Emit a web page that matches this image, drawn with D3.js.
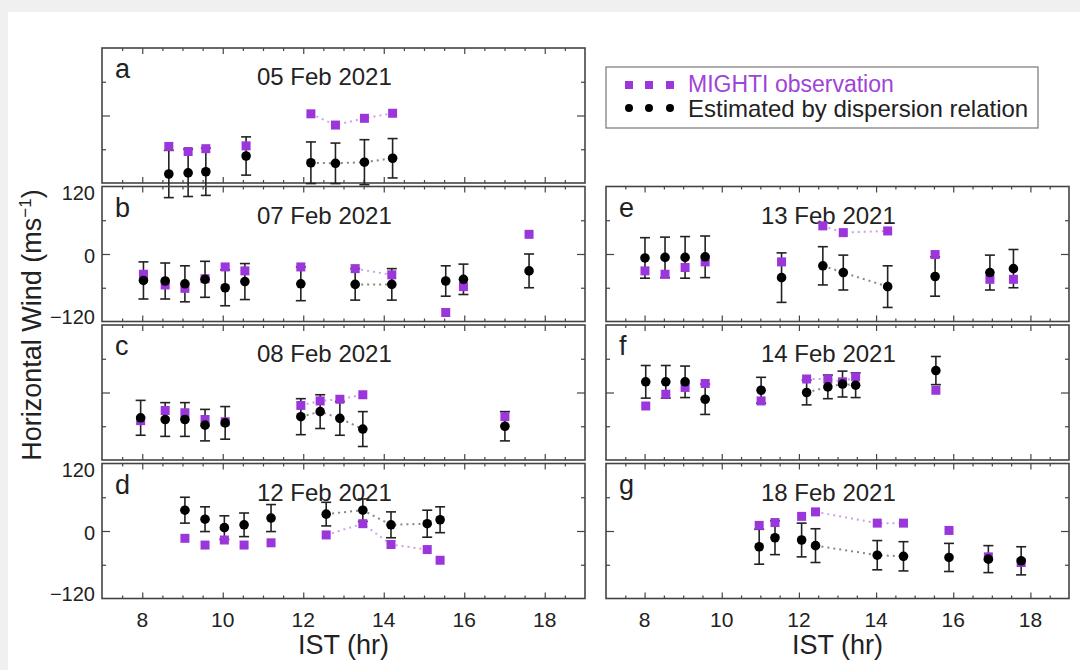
<!DOCTYPE html>
<html>
<head>
<meta charset="utf-8">
<script src="https://cdn.jsdelivr.net/npm/d3@7"></script>
<style>
  body { margin: 0; background: #f0f0f0; }
  text { font-family: "Liberation Sans", Arial, Helvetica, sans-serif; }
</style>
</head>
<body>
<div id="chart"></div>
<script>
// panel ids, dates, and where each panel sits (column, row)
var panelIds = ["a", "b", "c", "d", "e", "f", "g"];
var panelDates = ["05 Feb 2021", "07 Feb 2021", "08 Feb 2021", "12 Feb 2021",
  "13 Feb 2021", "14 Feb 2021", "18 Feb 2021"];
var panelCol = [0, 0, 0, 0, 1, 1, 1];
var panelRow = [0, 1, 2, 3, 1, 2, 3];

// IST hours, MIGHTI wind, estimated wind, error, dotted-link group
var hoursA = [8.66, 9.14, 9.58, 10.58, 12.19, 12.8, 13.52, 14.22];
var mightiA = [-55, -64, -59, -54, 3, -17, -5, 4];
var estA = [-104, -102, -100, -72, -84, -85, -83, -76];
var errA = [42, 42, 42, 34, 37, 36, 40, 35];
var linkA = [0, 0, 0, 0, 1, 1, 1, 1];

var hoursB = [8.03, 8.57, 9.06, 9.56, 10.06, 10.55, 11.94, 13.29, 14.2, 15.54, 15.98, 17.61];
var mightiB = [-36, -55, -61, -44, -23, -30, -23, -26, -37, -104, -58, 35];
var estB = [-47, -48, -53, -45, -60, -49, -53, -54, -54, -48, -45, -30];
var errB = [33, 32, 32, 32, 32, 32, 30, 28, 28, 27, 27, 30];
var linkB = [0, 0, 0, 0, 0, 0, 0, 1, 1, 0, 0, 0];

var hoursC = [7.96, 8.57, 9.06, 9.56, 10.06, 11.94, 12.42, 12.91, 13.48, 17.01];
var mightiC = [-50, -32, -36, -48, -52, -23, -15, -12, -4, -43];
var estC = [-45, -48, -48, -58, -54, -43, -34, -46, -65, -60];
var errC = [31, 30, 30, 28, 29, 32, 30, 30, 31, 26];
var linkC = [0, 0, 0, 0, 0, 1, 1, 1, 1, 0];

var hoursD = [9.06, 9.56, 10.04, 10.53, 11.2, 12.57, 13.48, 14.18, 15.08, 15.4];
var mightiD = [-13, -25, -16, -25, -21, -7, 13, -24, -33, -52];
var estD = [37, 21, 6, 11, 23, 30, 37, 11, 13, 20];
var errD = [23, 22, 21, 21, 24, 21, 20, 23, 24, 23];
var linkD = [0, 0, 0, 0, 0, 1, 1, 1, 1, 0];

var hoursE = [8.01, 8.53, 9.05, 9.57, 11.55, 12.62, 13.15, 14.3, 15.53, 16.95, 17.56];
var mightiE = [-30, -36, -24, -14, -14, 50, 38, 41, -1, -45, -45];
var estE = [-7, -6, -6, -5, -42, -21, -33, -58, -40, -33, -26];
var errE = [36, 36, 37, 37, 44, 34, 31, 37, 35, 31, 34];
var linkE = [0, 0, 0, 0, 0, 1, 1, 1, 0, 0, 0];

var hoursF = [8.03, 8.55, 9.05, 9.57, 11.02, 12.2, 12.75, 13.13, 13.47, 15.55];
var mightiF = [-24, -3, 9, 16, -15, 24, 24, 19, 28, 4];
var estF = [19, 19, 19, -12, 4, 0, 10, 15, 13, 39];
var errF = [29, 29, 28, 27, 23, 22, 21, 23, 22, 25];
var linkF = [0, 0, 0, 0, 0, 1, 1, 1, 1, 0];

var hoursG = [10.97, 11.38, 12.07, 12.43, 14.03, 14.71, 15.89, 16.91, 17.76];
var mightiG = [10, 15, 26, 34, 14, 14, 1, -46, -56];
var estG = [-28, -12, -16, -26, -43, -45, -47, -50, -53];
var errG = [31, 30, 30, 30, 26, 26, 25, 24, 25];
var linkG = [0, 0, 0, 1, 1, 1, 0, 0, 0];

// axis ticks
var xMajorTicks = [8, 10, 12, 14, 16, 18];
var yLabelTicks = [120, 0, -120];
var yMinorTicks = [60, -60];

var allHours = [hoursA, hoursB, hoursC, hoursD, hoursE, hoursF, hoursG];
var allMighti = [mightiA, mightiB, mightiC, mightiD, mightiE, mightiF, mightiG];
var allEst = [estA, estB, estC, estD, estE, estF, estG];
var allErr = [errA, errB, errC, errD, errE, errF, errG];
var allLink = [linkA, linkB, linkC, linkD, linkE, linkF, linkG];

var svgWidth = 1080;
var svgHeight = 670;

var colX = [102, 606];
var colW = [483, 463];
var rowY = [48, 186.5, 325, 463.5];
var panelH = 135;

var purple = "#9b37da";

var svg = d3.select("#chart")
  .append("svg")
  .attr("width", svgWidth)
  .attr("height", svgHeight);

// page background
svg.append("rect").attr("width", svgWidth).attr("height", svgHeight).attr("fill", "#f0f0f0");
svg.append("rect").attr("x", 8).attr("y", 12)
  .attr("width", svgWidth - 8).attr("height", svgHeight - 12).attr("fill", "#fff");

var yScale = d3.scaleLinear().domain([-120, 120]).range([panelH, 0]);

panelIds.forEach(function(id, i) {
  var col = panelCol[i];
  var w = colW[col];
  var xScale = d3.scaleLinear().domain([7, 19]).range([0, w]);

  var g = svg.append("g")
    .attr("transform", `translate(${colX[col]}, ${rowY[panelRow[i]]})`);

  // ticks, pointing inward on all four sides
  var xMinor = d3.range(7.5, 19, 0.5).filter(v => xMajorTicks.indexOf(v) < 0);
  g.append("g").attr("transform", `translate(0, ${panelH})`)
    .call(d3.axisBottom(xScale).tickValues(xMajorTicks).tickSize(-6).tickFormat(""));
  g.append("g").attr("transform", `translate(0, ${panelH})`)
    .call(d3.axisBottom(xScale).tickValues(xMinor).tickSize(-3).tickFormat(""));
  g.append("g")
    .call(d3.axisTop(xScale).tickValues(xMajorTicks).tickSize(-6).tickFormat(""));
  g.append("g")
    .call(d3.axisTop(xScale).tickValues(xMinor).tickSize(-3).tickFormat(""));
  g.append("g")
    .call(d3.axisLeft(yScale).tickValues([0]).tickSize(-8).tickFormat(""));
  g.append("g")
    .call(d3.axisLeft(yScale).tickValues(yMinorTicks).tickSize(-4).tickFormat(""));
  g.append("g").attr("transform", `translate(${w}, 0)`)
    .call(d3.axisRight(yScale).tickValues([0]).tickSize(-8).tickFormat(""));
  g.append("g").attr("transform", `translate(${w}, 0)`)
    .call(d3.axisRight(yScale).tickValues(yMinorTicks).tickSize(-4).tickFormat(""));
  g.selectAll(".domain").remove();
  g.selectAll(".tick line").attr("stroke", "#444").attr("stroke-width", 1.2);

  // frame
  g.append("rect")
    .attr("width", w)
    .attr("height", panelH)
    .attr("fill", "none")
    .attr("stroke", "#444")
    .attr("stroke-width", 1.6);

  // panel letter and date
  g.append("text")
    .attr("x", 13)
    .attr("y", 30)
    .attr("font-size", "27px")
    .attr("fill", "#222")
    .text(id);

  g.append("text")
    .attr("x", 155)
    .attr("y", 37)
    .attr("font-size", "24px")
    .attr("fill", "#222")
    .text(panelDates[i]);

  var pts = allHours[i].map(function(h, j) {
    return {
      hour: h,
      mighti: allMighti[i][j],
      est: allEst[i][j],
      err: allErr[i][j],
      link: allLink[i][j]
    };
  });

  // dotted links between consecutive points of the same pass
  var linked = pts.filter(d => d.link > 0);
  var groups = d3.groups(linked, d => d.link);
  groups.forEach(function(grp) {
    var gp = grp[1];
    g.append("path")
      .attr("d", d3.line().x(d => xScale(d.hour)).y(d => yScale(d.mighti))(gp))
      .attr("fill", "none")
      .attr("stroke", "#c9a3e6")
      .attr("stroke-width", 2)
      .attr("stroke-dasharray", "2,4");
    g.append("path")
      .attr("d", d3.line().x(d => xScale(d.hour)).y(d => yScale(d.est))(gp))
      .attr("fill", "none")
      .attr("stroke", "#888")
      .attr("stroke-width", 2)
      .attr("stroke-dasharray", "2,4");
  });

  // error bars
  var bars = g.selectAll(".ebar")
    .data(pts)
    .enter()
    .append("g")
    .attr("class", "ebar")
    .attr("stroke", "#222")
    .attr("stroke-width", 1.6);
  bars.append("line")
    .attr("x1", d => xScale(d.hour)).attr("x2", d => xScale(d.hour))
    .attr("y1", d => yScale(d.est + d.err)).attr("y2", d => yScale(d.est - d.err));
  bars.append("line")
    .attr("x1", d => xScale(d.hour) - 5).attr("x2", d => xScale(d.hour) + 5)
    .attr("y1", d => yScale(d.est + d.err)).attr("y2", d => yScale(d.est + d.err));
  bars.append("line")
    .attr("x1", d => xScale(d.hour) - 5).attr("x2", d => xScale(d.hour) + 5)
    .attr("y1", d => yScale(d.est - d.err)).attr("y2", d => yScale(d.est - d.err));

  // MIGHTI squares
  g.selectAll(".sq")
    .data(pts)
    .enter()
    .append("rect")
    .attr("class", "sq")
    .attr("x", d => xScale(d.hour) - 4.5)
    .attr("y", d => yScale(d.mighti) - 4.5)
    .attr("width", 9)
    .attr("height", 9)
    .attr("fill", purple);

  // estimated dots
  g.selectAll(".dot")
    .data(pts)
    .enter()
    .append("circle")
    .attr("class", "dot")
    .attr("cx", d => xScale(d.hour))
    .attr("cy", d => yScale(d.est))
    .attr("r", 4.8)
    .attr("fill", "#000");

  // y labels on left column panels b and d
  if (id === "b" || id === "d") {
    g.selectAll(".ylab")
      .data(yLabelTicks)
      .enter()
      .append("text")
      .attr("class", "ylab")
      .attr("x", -7)
      .attr("y", d => Math.min(Math.max(yScale(d) + 2, 6), panelH - 5))
      .attr("dy", "0.35em")
      .attr("text-anchor", "end")
      .attr("font-size", "20px")
      .attr("fill", "#222")
      .text(d => d < 0 ? "\u2212" + Math.abs(d) : d);
  }

  // x labels on bottom row
  if (panelRow[i] === 3) {
    g.selectAll(".xlab")
      .data(xMajorTicks)
      .enter()
      .append("text")
      .attr("class", "xlab")
      .attr("x", d => xScale(d))
      .attr("y", panelH + 28)
      .attr("text-anchor", "middle")
      .attr("font-size", "21px")
      .attr("fill", "#222")
      .text(d => d);

    g.append("text")
      .attr("x", w / 2)
      .attr("y", panelH + 55)
      .attr("text-anchor", "middle")
      .attr("font-size", "27px")
      .attr("fill", "#222")
      .text("IST (hr)");
  }
});

// y axis title
var yTitle = svg.append("text")
  .attr("transform", "translate(41, 325) rotate(-90)")
  .attr("text-anchor", "middle")
  .attr("font-size", "27px")
  .attr("fill", "#222");
yTitle.append("tspan").text("Horizontal Wind (ms");
yTitle.append("tspan").attr("font-size", "17px").attr("dy", "-10").text("\u22121");
yTitle.append("tspan").attr("dy", "10").text(")");

// legend
var legend = svg.append("g");
legend.append("rect")
  .attr("x", 606).attr("y", 67)
  .attr("width", 432).attr("height", 61)
  .attr("fill", "#fff")
  .attr("stroke", "#777")
  .attr("stroke-width", 1.2);

var legendX = [629, 649, 670];
legend.selectAll(".lsq")
  .data(legendX)
  .enter()
  .append("rect")
  .attr("x", d => d - 4)
  .attr("y", 81)
  .attr("width", 8)
  .attr("height", 8)
  .attr("fill", purple);
legend.selectAll(".ldot")
  .data(legendX)
  .enter()
  .append("circle")
  .attr("cx", d => d)
  .attr("cy", 108)
  .attr("r", 4)
  .attr("fill", "#000");
legend.append("text")
  .attr("x", 688).attr("y", 92)
  .attr("font-size", "23px")
  .attr("fill", "#a044d6")
  .text("MIGHTI observation");
legend.append("text")
  .attr("x", 688).attr("y", 117)
  .attr("font-size", "24px")
  .attr("fill", "#222")
  .text("Estimated by dispersion relation");
</script>
</body>
</html>
